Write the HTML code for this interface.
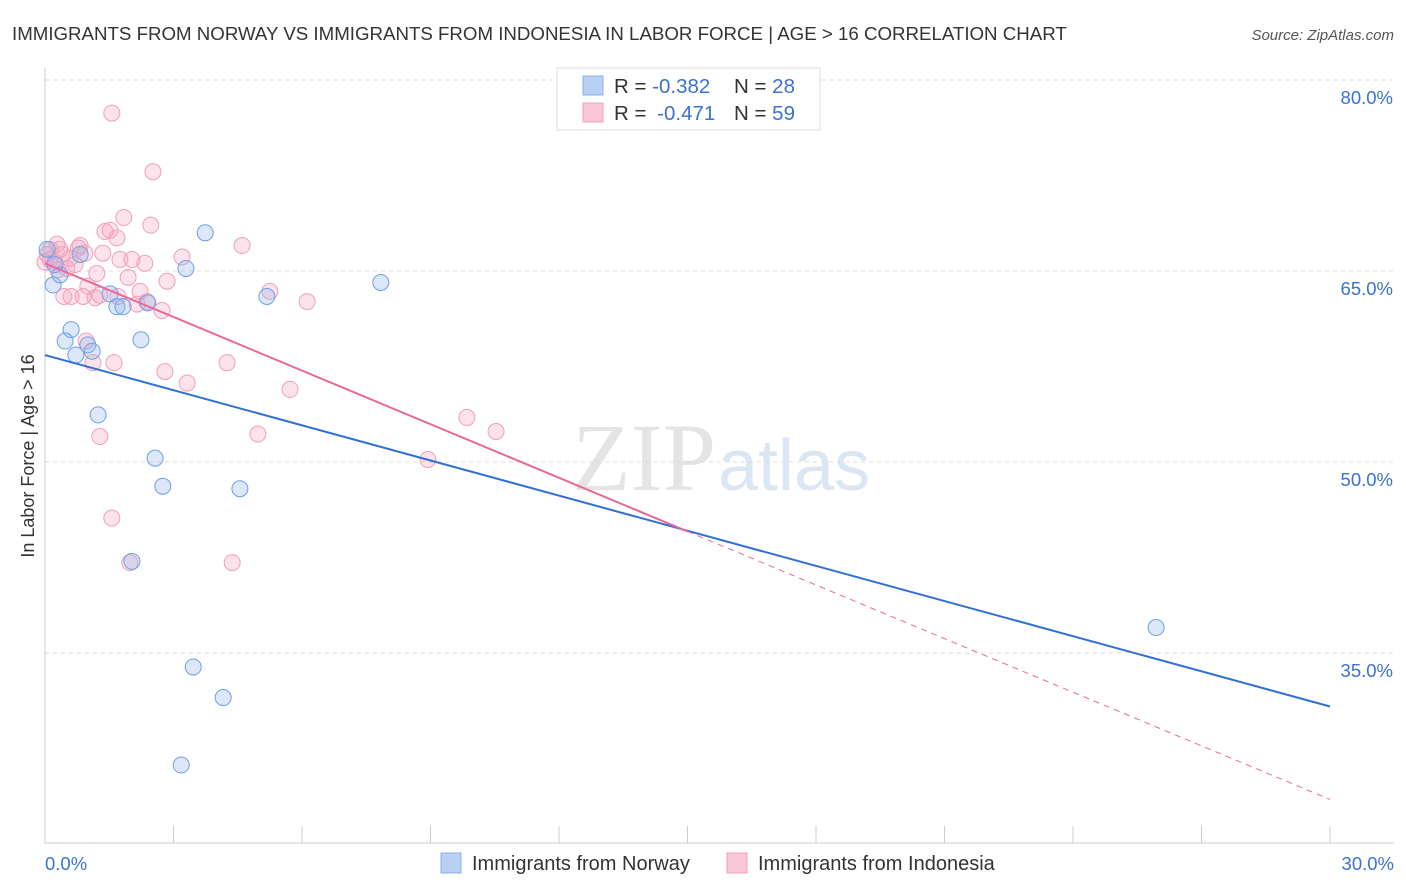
<!DOCTYPE html>
<html><head><meta charset="utf-8"><style>
body{margin:0;background:#fff;font-family:"Liberation Sans",sans-serif;}
svg{display:block}
</style></head><body>
<svg id="chart" width="1406" height="892" xmlns="http://www.w3.org/2000/svg">
<text x="12" y="40" font-size="18.7" fill="#333">IMMIGRANTS FROM NORWAY VS IMMIGRANTS FROM INDONESIA IN LABOR FORCE | AGE &gt; 16 CORRELATION CHART</text>
<text x="1394" y="40" font-size="15" fill="#555" font-style="italic" text-anchor="end">Source: ZipAtlas.com</text>
<text x="716" y="490" font-size="96" fill="#e4e4e4" text-anchor="end" font-family="Liberation Serif,serif">ZIP</text>
<text x="718" y="490" font-size="72" fill="#dbe6f5">atlas</text>
<g id="grid"></g>
<g id="axes"></g>
<g id="pts"></g>
<g id="lines"></g>
<text transform="translate(34,456) rotate(-90)" font-size="18" fill="#333" text-anchor="middle">In Labor Force | Age &gt; 16</text>
<g>
<rect x="557" y="68" width="263" height="62" fill="#fff" stroke="#ddd"/>
<rect x="583" y="76" width="20" height="19" fill="#b8d0f4" stroke="#8ab0e8"/>
<rect x="583" y="103" width="20" height="19" fill="#f8c6d4" stroke="#f0a0b8"/>
<text x="614" y="93" font-size="20.5" fill="#333">R = <tspan fill="#3a72d0">-0.382</tspan><tspan x="734">N = </tspan><tspan fill="#3a72d0">28</tspan></text>
<text x="614" y="120" font-size="20.5" fill="#333">R = <tspan fill="#3a72d0" dx="5">-0.471</tspan><tspan x="734">N = </tspan><tspan fill="#3a72d0">59</tspan></text>
</g>
<g>
<rect x="441" y="853" width="20" height="20" fill="#b8d0f4" stroke="#8ab0e8"/>
<text x="472" y="870" font-size="20" fill="#333">Immigrants from Norway</text>
<rect x="727" y="853" width="20" height="20" fill="#f8c6d4" stroke="#f0a0b8"/>
<text x="758" y="870" font-size="20" fill="#333">Immigrants from Indonesia</text>
</g>
</svg>
<script>
const yTicks=[35,50,65,80];
const yTickLabels=["35.0%","50.0%","65.0%","80.0%"];
const xTickLabels=["0.0%","30.0%"];
const norwayX=[0.19,0.35,0.82,0.61,0.47,0.72,1.00,1.10,1.52,1.68,1.82,2.40,2.24,3.74,3.29,5.18,7.84,1.24,2.57,2.75,4.55,2.03,3.46,4.16,3.18,25.94,0.05,0.23];
const norwayY=[63.9,64.7,66.3,60.4,59.5,58.4,59.2,58.7,63.2,62.2,62.2,62.5,59.6,68.0,65.2,63.0,64.1,53.7,50.3,48.1,47.9,42.2,33.9,31.5,26.2,37.0,66.7,65.5];
const indoX=[1.56,2.52,1.84,2.47,1.40,1.68,4.60,0.82,0.78,0.28,0.12,0.05,0.40,0.58,1.35,1.75,2.03,2.33,3.20,0.51,1.21,1.94,2.85,1.00,0.44,0.61,0.89,1.17,1.70,2.22,5.25,6.12,2.15,2.38,2.73,0.96,1.12,1.61,2.80,3.32,4.25,5.72,9.85,10.53,4.97,1.28,8.94,1.56,1.98,4.37,0.12,0.23,0.35,0.0,0.93,1.52,0.70,1.28,0.30];
const indoY=[77.4,72.8,69.2,68.6,68.1,67.6,67.0,67.0,66.8,67.1,66.7,66.3,66.3,66.0,66.4,65.9,65.9,65.6,66.1,65.2,64.8,64.5,64.2,63.8,63.0,63.0,63.0,62.9,63.0,63.4,63.4,62.6,62.4,62.6,61.9,59.5,57.8,57.8,57.1,56.2,57.8,55.7,53.5,52.4,52.2,52.0,50.2,45.6,42.1,42.1,65.9,65.7,66.7,65.7,66.4,68.2,65.5,63.1,65.1];
const norwayLine=[58.4,30.8];
const indoLine=[65.6,23.5];
const NS="http://www.w3.org/2000/svg";
const X=v=>45+v/30*1285, Y=v=>462-(v-50)*12.733;
function mk(t,a,p){const e=document.createElementNS(NS,t);for(const k in a)e.setAttribute(k,a[k]);p.appendChild(e);return e;}
const grid=document.getElementById('grid'),axes=document.getElementById('axes');
yTicks.forEach((t,i)=>{
 const l=mk('line',{x1:45,x2:1394,y1:Y(t),y2:Y(t),stroke:'#ddd','stroke-dasharray':'4,4'},grid);
 
 
 const tx=mk('text',{x:1393,y:Y(t)+24,'font-size':18.5,fill:'#3a72d0','text-anchor':'end'},axes);
 tx.textContent=yTickLabels[i];
 
 
});
const ax=mk('line',{x1:45,x2:45,y1:68,y2:843,stroke:'#ccc'},axes);


const bx=mk('line',{x1:45,x2:1394,y1:843,y2:843,stroke:'#ccc'},axes);


for(let i=0;i<=10;i++){const t=mk('line',{x1:X(i*3),x2:X(i*3),y1:826,y2:843,stroke:'#ccc'},axes);
 
 }
[[0,'start',45],[30,'end',1394]].forEach((d,i)=>{const t=mk('text',{x:d[2],y:870,'font-size':18.5,fill:'#3a72d0','text-anchor':d[1]},axes);t.textContent=xTickLabels[i];
 
 });
const pts=document.getElementById('pts');
indoX.forEach((v,i)=>{const c=mk('circle',{cx:X(v),cy:Y(indoY[i]),r:8,fill:'rgba(244,160,186,0.3)',stroke:'#f0a0b8','stroke-width':1},pts);
 
 });
norwayX.forEach((v,i)=>{const c=mk('circle',{cx:X(v),cy:Y(norwayY[i]),r:8,fill:'rgba(140,180,236,0.3)',stroke:'#6f9fe6','stroke-width':1},pts);
 
 });
const lines=document.getElementById('lines');
const bl=mk('line',{x1:X(0),y1:Y(norwayLine[0]),x2:X(30),y2:Y(norwayLine[1]),stroke:'#2f6fd6','stroke-width':2},lines);


const pm=indoLine[0]+(indoLine[1]-indoLine[0])*0.5;
const pl=mk('line',{x1:X(0),y1:Y(indoLine[0]),x2:X(15),y2:Y(pm),stroke:'#e8689a','stroke-width':2},lines);


const pd=mk('line',{x1:X(15),y1:Y(pm),x2:X(30),y2:Y(indoLine[1]),stroke:'#e8689a','stroke-width':1,'stroke-dasharray':'6,5'},lines);


</script>
</body></html>
